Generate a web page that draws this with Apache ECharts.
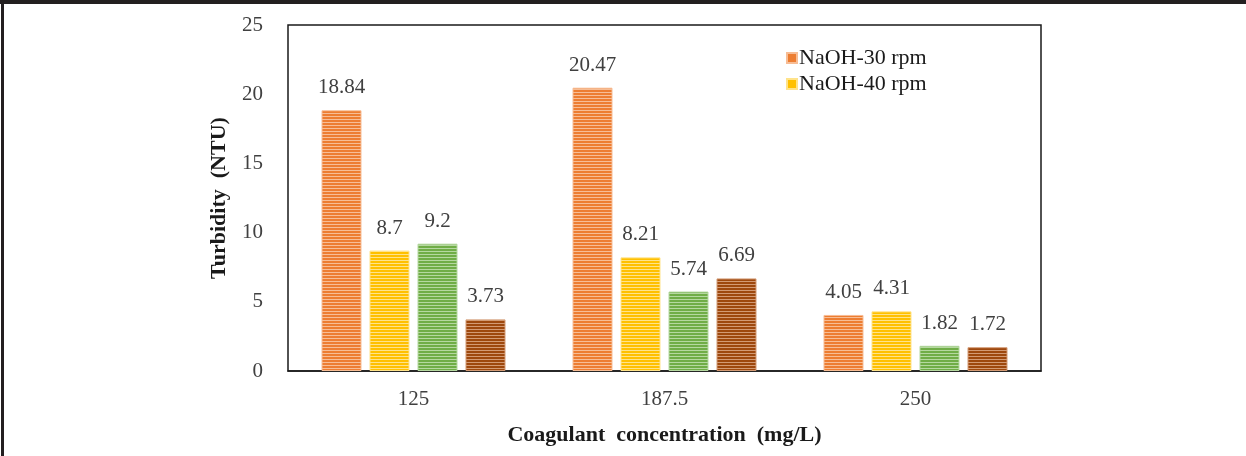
<!DOCTYPE html>
<html>
<head>
<meta charset="utf-8">
<script src="https://cdn.jsdelivr.net/npm/echarts@6/dist/echarts.min.js"></script>
<style>
    html, body { margin: 0; padding: 0; background: #fff; }
    #wrap { position: relative; width: 1246px; height: 456px; }
    #chart { width: 1246px; height: 456px; }
    .edge { position: absolute; background: #231f20; }
</style>
</head>
<body>
<div id="wrap">
    <div id="chart"></div>
    <div class="edge" style="left:0;top:0;width:1246px;height:4px;"></div>
    <div class="edge" style="left:1px;top:0;width:3px;height:456px;"></div>
</div>
<script>
// data
const categories = ['125', '187.5', '250'];
const naoh30 = [18.84, 20.47, 4.05];
const naoh40 = [8.7, 8.21, 4.31];
const series3 = [9.2, 5.74, 1.82];
const series4 = [3.73, 6.69, 1.72];
const yTicks = [0, 5, 10, 15, 20, 25];

const serif = '"Liberation Serif", "DejaVu Serif", serif';

// horizontal stripe fill, like the hatched bars
function stripes(base, light) {
    const c = document.createElement('canvas');
    c.width = 4;
    c.height = 3;
    const ctx = c.getContext('2d');
    ctx.fillStyle = base;
    ctx.fillRect(0, 0, 4, 3);
    ctx.fillStyle = light;
    ctx.fillRect(0, 2, 4, 1);
    return { image: c, repeat: 'repeat' };
}

function barSeries(name, data, base, light) {
    return {
        name: name,
        type: 'bar',
        data: data,
        barWidth: 40,
        barGap: '20%',
        itemStyle: {
            color: stripes(base, light),
            borderColor: light,
            borderWidth: 1
        },
        label: {
            show: true,
            position: 'top',
            distance: 12,
            color: '#404040',
            fontFamily: serif,
            fontSize: 21
        }
    };
}

const chart = echarts.init(document.getElementById('chart'));
chart.setOption({
    animation: false,
    backgroundColor: '#fff',
    grid: { left: 288, right: 205, top: 25, bottom: 85, show: true, borderColor: '#1a1a1a', borderWidth: 1.5 },
    legend: {
        data: [
            { name: 'NaOH-30 rpm', icon: 'rect', itemStyle: { color: '#ED7D31' } },
            { name: 'NaOH-40 rpm', icon: 'rect', itemStyle: { color: '#FFC000' } }
        ],
        orient: 'vertical',
        left: 781,
        top: 42,
        itemWidth: 10,
        itemHeight: 10,
        itemGap: 4,
        textStyle: { fontFamily: serif, fontSize: 22, color: '#1a1a1a', padding: [0, 0, 0, -3] }
    },
    xAxis: {
        type: 'category',
        data: categories,
        name: 'Coagulant  concentration  (mg/L)',
        nameLocation: 'middle',
        nameGap: 53,
        nameTextStyle: { fontFamily: serif, fontSize: 22, fontWeight: 'bold', color: '#1a1a1a' },
        axisLine: { lineStyle: { color: '#1a1a1a', width: 1.5 } },
        axisTick: { show: false },
        axisLabel: { fontFamily: serif, fontSize: 21, color: '#404040', margin: 18 }
    },
    yAxis: {
        type: 'value',
        min: yTicks[0],
        max: yTicks[yTicks.length - 1],
        interval: 5,
        name: 'Turbidity  (NTU)',
        nameLocation: 'middle',
        nameGap: 58,
        nameTextStyle: { fontFamily: serif, fontSize: 22, fontWeight: 'bold', color: '#1a1a1a' },
        axisLine: { show: false },
        axisTick: { show: false },
        splitLine: { show: false },
        axisLabel: { fontFamily: serif, fontSize: 21, color: '#404040', margin: 25 }
    },
    series: [
        barSeries('NaOH-30 rpm', naoh30, '#ED7D31', '#F7BD95'),
        barSeries('NaOH-40 rpm', naoh40, '#FFC000', '#FFE38A'),
        barSeries('Series 3', series3, '#70AD47', '#B5D8A0'),
        barSeries('Series 4', series4, '#9E480E', '#D39A74')
    ]
});
</script>
</body>
</html>
